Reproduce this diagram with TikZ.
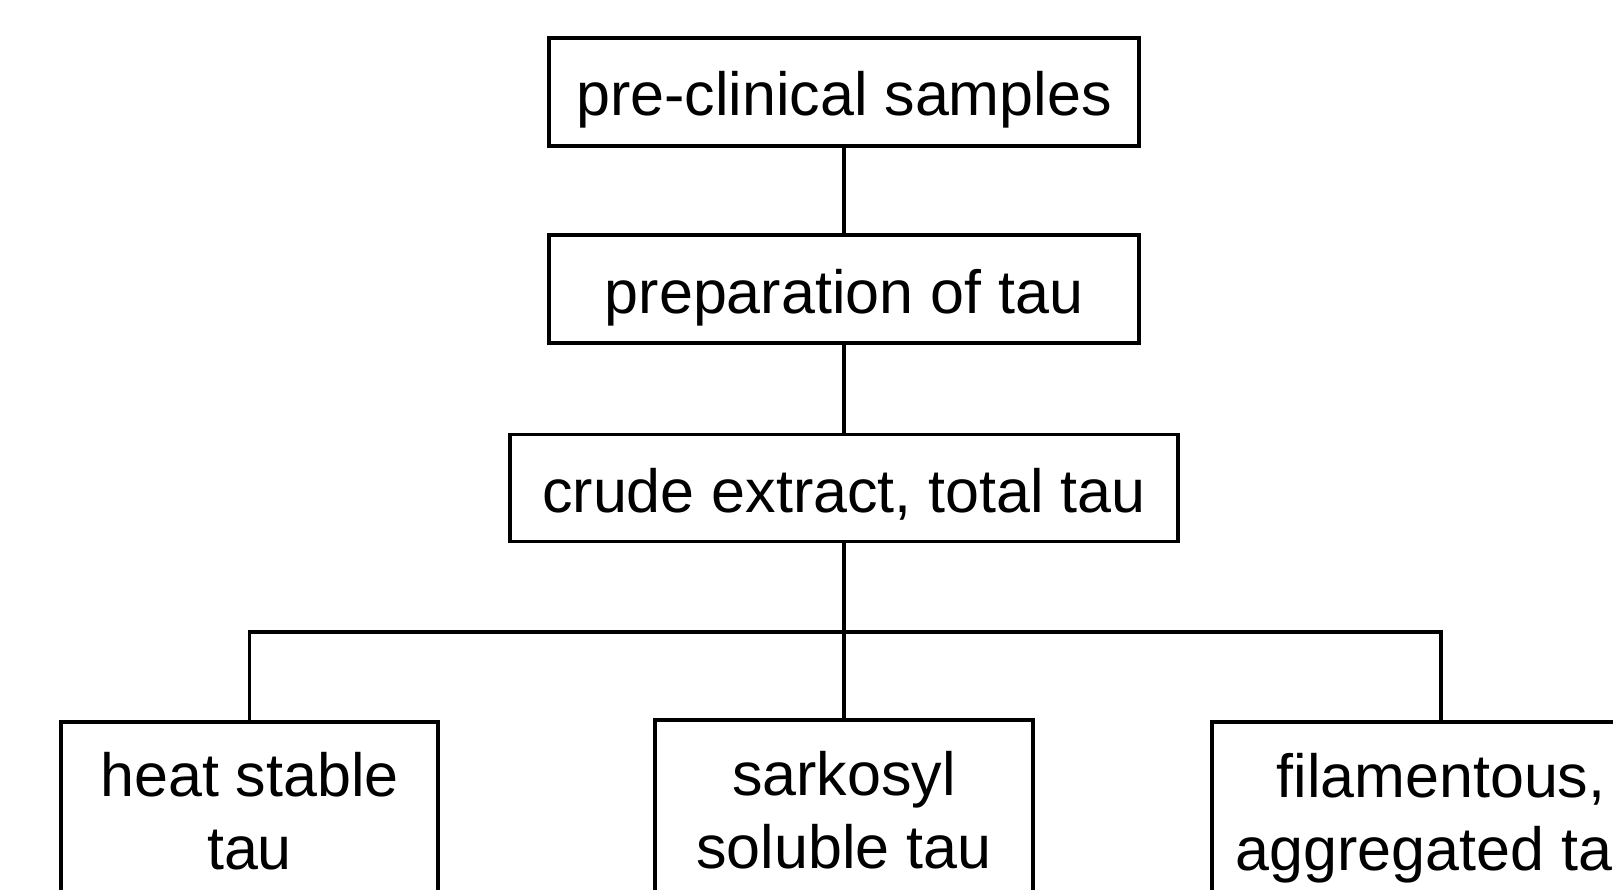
\documentclass[tikz,border=0pt]{standalone}
\usepackage{fontspec}
\setmainfont{Liberation Sans}
\begin{document}
\begin{tikzpicture}[x=1pt,y=-1pt,
  base/.style={draw=black,line width=3.1pt,inner sep=0pt,
    font=\fontsize{61}{73}\selectfont},
  box/.style={base,align=center},
  onebox/.style={base,text height=60pt,text depth=12pt},
  conn/.style={draw=black,line width=3.1pt}]
\useasboundingbox (0,0) rectangle (1613,890);
\clip (0,0) rectangle (1613,890);
\node[onebox,minimum width=590pt,minimum height=108pt] (A) at (844,92) {pre-clinical samples};
\node[onebox,minimum width=590pt,minimum height=108pt] (B) at (844,289) {preparation of tau};
\node[onebox,minimum width=668pt,minimum height=107pt] (C) at (844,488) {crude extract, total tau};
\node[box,minimum width=377pt,minimum height=178pt] (D) at (249.5,811) {heat stable\\tau};
\node[box,minimum width=378pt,minimum height=180pt] (E) at (844,810) {sarkosyl\\soluble tau};
\node[box,minimum width=458pt,minimum height=192pt] (F) at (1441,818) {filamentous,\\aggregated tau};
\coordinate (j) at (844,632);
\draw[conn] (A.south) -- (B.north);
\draw[conn] (B.south) -- (C.north);
\draw[conn] (C.south) -- (E.north);
\draw[conn] (D.north) -- (D.north |- j) -- (F.north |- j) -- (F.north);
\end{tikzpicture}
\end{document}
